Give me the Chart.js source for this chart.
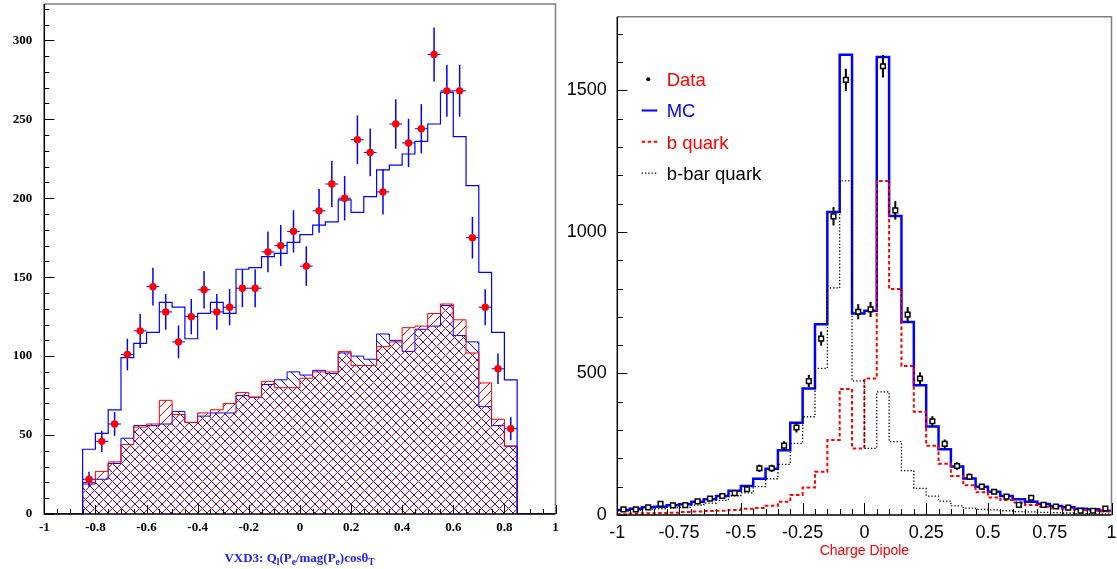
<!DOCTYPE html>
<html>
<head>
<meta charset="utf-8">
<script src="https://cdn.jsdelivr.net/npm/chart.js@4.4.1/dist/chart.umd.min.js"></script>
<style>
  html, body { margin: 0; padding: 0; background: #fff; }
  #wrap { position: relative; width: 1117px; height: 569px; overflow: hidden; }
  canvas { position: absolute; top: 0; }
  #vxd { left: 0; }
  #dip { left: 560px; }
</style>
</head>
<body>
<div id="wrap">
  <canvas id="vxd" width="560" height="569"></canvas>
  <canvas id="dip" width="557" height="569"></canvas>
</div>
<script>
// ---- left panel: VXD3 lepton charge * direction ----
const vxdBinLow = -0.85, vxdBinWidth = 0.05;
const vxdData = [22, 46, 57, 101, 116, 144, 128, 109, 125, 142, 128, 131, 143, 143, 166, 170, 179,
                 157, 192, 209, 200, 237, 229, 204, 247, 235, 244, 291, 268, 268, 175, 131, 92, 54];
const vxdErr = [4.7, 6.8, 7.5, 10.0, 10.8, 12.0, 11.3, 10.4, 11.2, 11.9, 11.3, 11.4, 12.0, 12.0, 12.9, 13.0, 13.4,
                12.5, 13.9, 14.5, 14.1, 15.4, 15.1, 14.3, 15.7, 15.3, 15.6, 17.1, 16.4, 16.4, 13.2, 11.4, 9.6, 7.3];
const vxdMC = [41, 51, 66, 99, 108, 115, 134, 131, 111, 127, 134, 127, 155, 156, 163, 165, 172,
               177, 183, 185, 199, 191, 201, 218, 221, 228, 236, 247, 267, 239, 208, 153, 115, 85];
const vxdRed = [20, 27, 33, 44, 55, 57, 72, 63, 58, 64, 66, 70, 77, 74, 84, 80, 80,
                86, 90, 90, 103, 94, 94, 106, 109, 118, 119, 127, 133, 123, 102, 83, 60, 43];
const vxdBlue = [19, 22, 32, 48, 56, 56, 57, 65, 58, 62, 64, 64, 75, 74, 82, 85, 90,
                 88, 91, 89, 102, 100, 98, 114, 110, 103, 117, 119, 132, 113, 109, 68, 56, 43];
const vxdXTicks = [-1, -0.8, -0.6, -0.4, -0.2, 0, 0.2, 0.4, 0.6, 0.8, 1];
const vxdYTicks = [0, 50, 100, 150, 200, 250, 300];
const vxdTitleParts = [['VXD3: Q', 0], ['l', 1], ['(P', 0], ['e', 1], ['/mag(P', 0], ['e', 1], [')cos\u03b8', 0], ['T', 1]];

// ---- right panel: charge dipole ----
const dipBinLow = -1, dipBinWidth = 0.05;
const dipData = [20, 20, 27, 39, 34, 35, 48, 58, 67, 77, 91, 165, 165, 245, 309, 473, 623, 1055, 1537, 718,
                 726, 1585, 1076, 708, 482, 331, 251, 173, 135, 100, 82, 65, 36, 61, 36, 30, 26, 15, 15, 23];
const dipErr = [4.5, 4.5, 5.2, 6.2, 5.8, 5.9, 6.9, 7.6, 8.2, 8.8, 9.5, 12.8, 12.8, 15.7, 17.6, 21.7, 25.0, 32.5, 39.2, 26.8,
                26.9, 39.8, 32.8, 26.6, 22.0, 18.2, 15.8, 13.2, 11.6, 10.0, 9.1, 8.1, 6.0, 7.8, 6.0, 5.5, 5.1, 3.9, 3.9, 4.8];
const dipMC = [18, 22, 27, 29, 34, 38, 47, 56, 67, 86, 102, 128, 163, 229, 326, 447, 674, 1070, 1626, 712,
               721, 1618, 1056, 682, 458, 313, 232, 171, 129, 100, 82, 67, 56, 47, 39, 32, 27, 22, 20, 15];
const dipB = [3, 5, 6, 7, 8, 11, 12, 14, 15, 18, 22, 25, 33, 47, 71, 97, 153, 265, 445, 235,
              482, 1180, 798, 526, 365, 245, 181, 138, 105, 80, 62, 53, 44, 35, 29, 24, 20, 18, 15, 12];
const dipBbar = [14, 17, 21, 22, 26, 27, 35, 42, 52, 68, 78, 100, 128, 179, 253, 347, 518, 802, 1180, 474,
                 235, 435, 259, 157, 94, 67, 49, 32, 24, 20, 18, 15, 12, 11, 9, 8, 7, 5, 5, 4];
const dipXTicks = [-1, -0.75, -0.5, -0.25, 0, 0.25, 0.5, 0.75, 1];
const dipYTicks = [0, 500, 1000, 1500];
const dipLegendLabels = ['Data', 'MC', 'b quark', 'b-bar quark'];

const SERIF = '"Liberation Serif", "Times New Roman", serif';
const SANS = '"Liberation Sans", Arial, Helvetica, sans-serif';

function stepPoints(lo, w, vals, lead, tail) {
  const pts = lead.slice();
  vals.forEach((v, i) => pts.push({x: lo + i * w, y: v}));
  return pts.concat(tail);
}
function centerPoints(lo, w, vals) {
  return vals.map((v, i) => ({x: lo + (i + 0.5) * w, y: v}));
}

function hatch(ctx, color, dir) {
  const s = 9, c = document.createElement('canvas');
  c.width = c.height = s;
  const g = c.getContext('2d');
  g.strokeStyle = color;
  g.lineWidth = 1;
  g.beginPath();
  if (dir > 0) {
    g.moveTo(0, s); g.lineTo(s, 0);
    g.moveTo(-1, 1); g.lineTo(1, -1);
    g.moveTo(s - 1, s + 1); g.lineTo(s + 1, s - 1);
  } else {
    g.moveTo(0, 0); g.lineTo(s, s);
    g.moveTo(s - 1, -1); g.lineTo(s + 1, 1);
    g.moveTo(-1, s - 1); g.lineTo(1, s + 1);
  }
  g.stroke();
  return ctx.createPattern(c, 'repeat');
}

// frame + inward ticks, ROOT style
const frameTicks = {
  id: 'frameTicks',
  afterDraw(chart, args, o) {
    const {ctx, chartArea: a} = chart;
    const sx = chart.scales.x, sy = chart.scales.y;
    ctx.save();
    ctx.strokeStyle = o.frameColor;
    ctx.lineWidth = o.frameWidth;
    ctx.beginPath();
    ctx.moveTo(a.left, a.top); ctx.lineTo(a.right, a.top); ctx.lineTo(a.right, a.bottom);
    ctx.stroke();

    ctx.strokeStyle = '#000';
    ctx.lineWidth = 1;
    ctx.beginPath();
    const n = Math.round((sx.max - sx.min) / o.xMinor);
    for (let i = 0; i <= n; i++) {
      const v = sx.min + i * o.xMinor;
      const major = Math.abs(v / o.xMajor - Math.round(v / o.xMajor)) < 1e-6;
      const px = Math.round(sx.getPixelForValue(v)) + 0.5;
      ctx.moveTo(px, a.bottom);
      ctx.lineTo(px, a.bottom - (major ? o.xMajorLen : o.xMinorLen));
    }
    const m = Math.floor((sy.max - sy.min) / o.yMinor + 1e-6);
    for (let i = 0; i <= m; i++) {
      const v = sy.min + i * o.yMinor;
      const major = Math.abs(v / o.yMajor - Math.round(v / o.yMajor)) < 1e-6;
      const py = Math.round(sy.getPixelForValue(v)) + 0.5;
      ctx.moveTo(a.left, py);
      ctx.lineTo(a.left + (major ? o.yMajorLen : o.yMinorLen), py);
    }
    ctx.stroke();

    ctx.lineWidth = o.axisWidth;
    ctx.beginPath();
    ctx.moveTo(a.left, a.top); ctx.lineTo(a.left, a.bottom); ctx.lineTo(a.right, a.bottom);
    ctx.stroke();
    ctx.restore();
  }
};

// error bars drawn just before the data points (dataset 0)
const errorBars = {
  id: 'errorBars',
  beforeDatasetDraw(chart, args, o) {
    if (args.index !== 0 || !o.err) return;
    const ctx = chart.ctx, sx = chart.scales.x, sy = chart.scales.y;
    ctx.save();
    ctx.strokeStyle = o.color;
    chart.data.datasets[0].data.forEach((p, i) => {
      const px = sx.getPixelForValue(p.x);
      ctx.lineWidth = o.width;
      ctx.beginPath();
      ctx.moveTo(px, sy.getPixelForValue(p.y - o.err[i]));
      ctx.lineTo(px, sy.getPixelForValue(p.y + o.err[i]));
      ctx.stroke();
      if (o.xHalf) {
        const py = sy.getPixelForValue(p.y);
        ctx.lineWidth = 1;
        ctx.beginPath();
        ctx.moveTo(sx.getPixelForValue(p.x - o.xHalf), py);
        ctx.lineTo(sx.getPixelForValue(p.x + o.xHalf), py);
        ctx.stroke();
      }
    });
    ctx.restore();
  }
};

// left axis title with subscripts
const vxdTitle = {
  id: 'vxdTitle',
  afterDraw(chart) {
    const ctx = chart.ctx;
    const big = 'bold 13px ' + SERIF, small = 'bold 9.5px ' + SERIF;
    ctx.save();
    let w = 0;
    vxdTitleParts.forEach(([t, sub]) => { ctx.font = sub ? small : big; w += ctx.measureText(t).width; });
    let x = 299.5 - w / 2;
    ctx.fillStyle = '#2323ee';
    ctx.textBaseline = 'alphabetic';
    vxdTitleParts.forEach(([t, sub]) => {
      ctx.font = sub ? small : big;
      ctx.fillText(t, x, sub ? 564.5 : 561.5);
      x += ctx.measureText(t).width;
    });
    ctx.restore();
  }
};

// right legend + axis title
const dipDecor = {
  id: 'dipDecor',
  afterDraw(chart) {
    const ctx = chart.ctx;
    ctx.save();
    ctx.font = '18.5px ' + SANS;
    ctx.textBaseline = 'alphabetic';
    const colors = ['#ff0000', '#0000ff', '#ff0000', '#000000'];
    dipLegendLabels.forEach((t, i) => {
      const base = 86 + i * 31.3, cy = base - 6.8;
      if (i === 0) {
        ctx.fillStyle = '#000';
        ctx.beginPath(); ctx.arc(88.3, cy, 2, 0, Math.PI * 2); ctx.fill();
      } else {
        ctx.beginPath();
        ctx.moveTo(81.7, cy); ctx.lineTo(97.3, cy);
        if (i === 1) { ctx.strokeStyle = '#0000ff'; ctx.lineWidth = 2; ctx.setLineDash([]); }
        if (i === 2) { ctx.strokeStyle = '#ff0000'; ctx.lineWidth = 2; ctx.setLineDash([3.5, 2.5]); }
        if (i === 3) { ctx.strokeStyle = '#000'; ctx.lineWidth = 1.3; ctx.setLineDash([1.3, 2]); }
        ctx.stroke();
        ctx.setLineDash([]);
      }
      ctx.fillStyle = colors[i];
      ctx.fillText(t, 106.7, base);
    });
    ctx.font = '14px ' + SANS;
    ctx.fillStyle = '#ff0000';
    ctx.textAlign = 'center';
    ctx.textBaseline = 'middle';
    ctx.fillText('Charge Dipole', chart.scales.x.getPixelForValue(0), 551.5);
    ctx.restore();
  }
};

// ---------- left chart ----------
const vctx = document.getElementById('vxd').getContext('2d');
new Chart(vctx, {
  type: 'line',
  data: {
    datasets: [
      {
        label: 'Data',
        data: centerPoints(vxdBinLow, vxdBinWidth, vxdData),
        showLine: false,
        pointRadius: 3.7,
        pointBackgroundColor: '#ff0000',
        pointBorderWidth: 0
      },
      {
        label: 'MC',
        data: stepPoints(vxdBinLow, vxdBinWidth, vxdMC, [{x: -1, y: 0}], [{x: 0.85, y: 0}, {x: 1, y: 0}]),
        stepped: true,
        borderColor: '#0000ff',
        borderWidth: 1.2,
        pointRadius: 0,
        fill: false
      },
      {
        label: 'red',
        data: stepPoints(vxdBinLow, vxdBinWidth, vxdRed, [{x: -1, y: 0}], [{x: 0.85, y: 0}, {x: 1, y: 0}]),
        stepped: true,
        borderColor: '#ff0000',
        borderWidth: 1,
        pointRadius: 0,
        fill: 'origin',
        backgroundColor: hatch(vctx, '#ff0000', 1)
      },
      {
        label: 'blue',
        data: stepPoints(vxdBinLow, vxdBinWidth, vxdBlue, [{x: -1, y: 0}], [{x: 0.85, y: 0}, {x: 1, y: 0}]),
        stepped: true,
        borderColor: '#0000ff',
        borderWidth: 1,
        pointRadius: 0,
        fill: 'origin',
        backgroundColor: hatch(vctx, '#0000ff', -1)
      }
    ]
  },
  options: {
    responsive: false,
    animation: false,
    events: [],
    layout: {padding: {left: 0, right: 4.5, top: 2.7, bottom: 0}},
    plugins: {
      legend: {display: false},
      tooltip: {enabled: false},
      frameTicks: {
        frameColor: '#808080', frameWidth: 1.5, axisWidth: 1.5,
        xMinor: 0.05, xMajor: 0.2, xMajorLen: 9, xMinorLen: 5,
        yMinor: 10, yMajor: 50, yMajorLen: 10, yMinorLen: 5
      },
      errorBars: {err: vxdErr, color: '#0000ff', width: 1.5, xHalf: 0.025}
    },
    scales: {
      x: {
        type: 'linear', min: -1, max: 1,
        afterBuildTicks: s => { s.ticks = vxdXTicks.map(v => ({value: v})); },
        afterFit: s => { s.height = 55; s.paddingLeft = 0; s.paddingRight = 0; },
        grid: {display: false, drawTicks: false},
        border: {display: false},
        ticks: {
          callback: v => String(v), autoSkip: false, maxRotation: 0,
          font: {family: SERIF, size: 13, weight: 'bold'}, color: '#000', padding: 6
        }
      },
      y: {
        type: 'linear', min: 0, max: 323,
        afterBuildTicks: s => { s.ticks = vxdYTicks.map(v => ({value: v})); },
        afterFit: s => { s.width = 44.3; s.paddingTop = 0; s.paddingBottom = 0; },
        grid: {display: false, drawTicks: false},
        border: {display: false},
        ticks: {
          callback: v => String(v),
          font: {family: SERIF, size: 13, weight: 'bold'}, color: '#000', padding: 12
        }
      }
    }
  },
  plugins: [frameTicks, errorBars, vxdTitle]
});

// ---------- right chart ----------
const dctx = document.getElementById('dip').getContext('2d');
new Chart(dctx, {
  type: 'line',
  data: {
    datasets: [
      {
        label: 'Data',
        data: centerPoints(dipBinLow, dipBinWidth, dipData),
        showLine: false,
        pointStyle: 'rect',
        pointRadius: 3.3,
        pointBackgroundColor: '#ffffff',
        pointBorderColor: '#000000',
        pointBorderWidth: 1.5
      },
      {
        label: 'b-bar quark',
        data: stepPoints(dipBinLow, dipBinWidth, dipBbar, [], [{x: 1, y: dipBbar[dipBbar.length - 1]}]),
        stepped: true,
        borderColor: '#000000',
        borderWidth: 1.3,
        borderDash: [1.3, 2],
        pointRadius: 0,
        fill: false
      },
      {
        label: 'b quark',
        data: stepPoints(dipBinLow, dipBinWidth, dipB, [], [{x: 1, y: dipB[dipB.length - 1]}]),
        stepped: true,
        borderColor: '#ff0000',
        borderWidth: 2,
        borderDash: [3.5, 2.5],
        pointRadius: 0,
        fill: false
      },
      {
        label: 'MC',
        data: stepPoints(dipBinLow, dipBinWidth, dipMC, [], [{x: 1, y: dipMC[dipMC.length - 1]}]),
        stepped: true,
        borderColor: '#0000ff',
        borderWidth: 2.5,
        pointRadius: 0,
        fill: false
      }
    ]
  },
  options: {
    responsive: false,
    animation: false,
    events: [],
    layout: {padding: {left: 0, right: 1.4, top: 16.7, bottom: 0}},
    plugins: {
      legend: {display: false},
      tooltip: {enabled: false},
      frameTicks: {
        frameColor: '#808080', frameWidth: 1.5, axisWidth: 1.5,
        xMinor: 0.05, xMajor: 0.25, xMajorLen: 12, xMinorLen: 6,
        yMinor: 100, yMajor: 500, yMajorLen: 10, yMinorLen: 5.5
      },
      errorBars: {err: dipErr, color: '#000000', width: 2, xHalf: 0}
    },
    scales: {
      x: {
        type: 'linear', min: -1, max: 1,
        afterBuildTicks: s => { s.ticks = dipXTicks.map(v => ({value: v})); },
        afterFit: s => { s.height = 54; s.paddingLeft = 0; s.paddingRight = 0; },
        grid: {display: false, drawTicks: false},
        border: {display: false},
        ticks: {
          callback: v => String(v), autoSkip: false, maxRotation: 0,
          font: {family: SANS, size: 18}, color: '#000', padding: 7
        }
      },
      y: {
        type: 'linear', min: 0, max: 1760,
        afterBuildTicks: s => { s.ticks = dipYTicks.map(v => ({value: v})); },
        afterFit: s => { s.width = 57.3; s.paddingTop = 0; s.paddingBottom = 0; },
        grid: {display: false, drawTicks: false},
        border: {display: false},
        ticks: {
          callback: v => String(v),
          font: {family: SANS, size: 18}, color: '#000', padding: 10.6
        }
      }
    }
  },
  plugins: [frameTicks, errorBars, dipDecor]
});
</script>
</body>
</html>
